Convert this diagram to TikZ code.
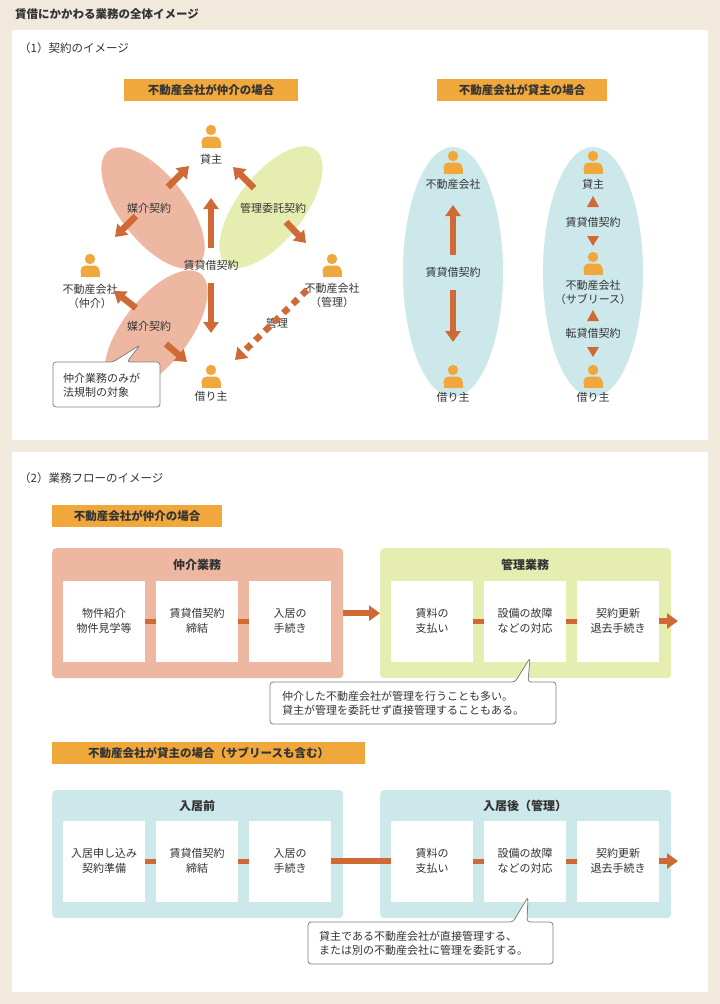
\documentclass[tikz,border=0pt]{standalone}
\usepackage{fontspec}
\setmainfont{Noto Sans CJK JP}
\usetikzlibrary{arrows.meta,shapes.geometric,calc}
\definecolor{bgc}{HTML}{F2E9DD}
\definecolor{orl}{HTML}{F0A83C}
\definecolor{arc}{HTML}{CF6A36}
\definecolor{pinkc}{HTML}{EEB7A1}
\definecolor{greenc}{HTML}{E6EDB0}
\definecolor{bluec}{HTML}{CDE8EA}
\definecolor{txt}{HTML}{333333}
\tikzset{
 lbl/.style={font=\fontsize{11}{14}\selectfont, text=txt, align=center, inner sep=1pt},
 tag/.style={fill=orl, font=\fontsize{11.5}{14}\selectfont\bfseries, text=txt, inner sep=0pt, minimum height=22, anchor=west},
 blk/.style={draw=arc, line width=6.5, -{Triangle[width=15,length=11]}},
 small/.style={draw=arc, line width=5},
 wbox/.style={fill=white, minimum width=82, minimum height=81, inner sep=0pt, font=\fontsize{11}{15}\selectfont, text=txt, align=center},
 grp/.style={rounded corners=4, minimum width=291, minimum height=130, inner sep=0pt},
 call/.style={draw=gray, line width=0.8, fill=white, rounded corners=3},
 ell/.style={ellipse, inner sep=0pt},
 gtitle/.style={lbl,font=\fontsize{12}{14}\selectfont\bfseries}
}
\newcommand\myperson[1]{\fill[orl] ($(#1)+(0,-6)$) circle (5.2);
 \fill[orl,rounded corners=5] ($(#1)+(-9.5,12)$) rectangle ($(#1)+(9.5,0.5)$);
 \fill[orl] ($(#1)+(-9.5,6)$) rectangle ($(#1)+(9.5,12)$);}
\begin{document}
\begin{tikzpicture}[x=1pt,y=-1pt]
\fill[bgc] (0,0) rectangle (720,1004);
\useasboundingbox (0,0) rectangle (720,1004);
\node[lbl,anchor=west,font=\fontsize{11.5}{14}\selectfont\bfseries] (title) at (14,14) {賃借にかかわる業務の全体イメージ};
\fill[white] (12,30) rectangle (708,440);
\fill[white] (12,452) rectangle (708,992);
\node[lbl,anchor=west,font=\fontsize{11.5}{14}\selectfont] (t1) at (18,48) {（1）契約のイメージ};
\node[lbl,anchor=west,font=\fontsize{11.5}{14}\selectfont] (t2) at (18,478) {（2）業務フローのイメージ};
% tags
\node[tag,minimum width=174] (tagA) at (124,90) {不動産会社が仲介の場合};
\node[tag,minimum width=170] (tagB) at (437,90) {不動産会社が貸主の場合};
% ellipses
\node[ell,fill=pinkc,minimum width=145,minimum height=66,rotate=-52] (e1) at (153,208) {};
\node[ell,fill=greenc,minimum width=145,minimum height=66,rotate=52] (e2) at (271,207) {};
\node[ell,fill=pinkc,minimum width=145,minimum height=66,rotate=52] (e3) at (156,331) {};
% persons
\coordinate (pL) at (211,136); \myperson{pL}
\coordinate (pA) at (90,265); \myperson{pA}
\coordinate (pB) at (332,265); \myperson{pB}
\coordinate (pC) at (211,376); \myperson{pC}
\node[lbl] (kashi) at (211,159) {貸主};
\node[lbl] (fA) at (90,296) {不動産会社\\（仲介）};
\node[lbl] (fB) at (332,295) {不動産会社\\（管理）};
\node[lbl] (kari) at (211,396) {借り主};
\node[lbl] (m1) at (149,208) {媒介契約};
\node[lbl] (m2) at (273,208) {管理委託契約};
\node[lbl] (m3) at (149,326) {媒介契約};
\node[lbl] (cc) at (211,265) {賃貸借契約};
\node[lbl] (kanri) at (277,323) {管理};
% arrows
\coordinate (a1s) at (168,187); \coordinate (a1e) at (189,166);
\coordinate (a2s) at (136,216); \coordinate (a2e) at (115,237);
\coordinate (a3s) at (254,188); \coordinate (a3e) at (233,167);
\coordinate (a4s) at (286,222); \coordinate (a4e) at (306,243);
\coordinate (a5s) at (136,308); \coordinate (a5e) at (114,291);
\coordinate (a6s) at (166,344); \coordinate (a6e) at (187,362);
\draw[blk] (a1s) -- (a1e); \draw[blk] (a2s) -- (a2e);
\draw[blk] (a3s) -- (a3e); \draw[blk] (a4s) -- (a4e);
\draw[blk] (a5s) -- (a5e); \draw[blk] (a6s) -- (a6e);
\coordinate (v1s) at (211,248); \coordinate (v1e) at (211,198);
\coordinate (v2s) at (211,283); \coordinate (v2e) at (211,333);
\draw[blk] (v1s) -- (v1e); \draw[blk] (v2s) -- (v2e);
\coordinate (ds) at (307,290); \coordinate (de) at (235,360);
\draw[draw=arc,line width=6.5,dash pattern=on 7 off 6,-{Triangle[width=15,length=11]}] (ds) -- (de);
% callout 1
\draw[call] (53,362) -- (113,362) -- (140,345) -- (127,362) -- (160,362) -- (160,407) -- (53,407) -- cycle;
\node[lbl,anchor=west,align=left] (cl1) at (62,385) {仲介業務のみが\\法規制の対象};
% right part
\node[ell,fill=bluec,minimum width=100,minimum height=250] (e4) at (453,272) {};
\node[ell,fill=bluec,minimum width=100,minimum height=250] (e5) at (593,272) {};
\coordinate (pD) at (453,162); \myperson{pD}
\coordinate (pE) at (453,376); \myperson{pE}
\node[lbl] (fD) at (453,184) {不動産会社};
\node[lbl] (kE) at (453,397) {借り主};
\node[lbl] (cD) at (453,272) {賃貸借契約};
\coordinate (v3s) at (453,255); \coordinate (v3e) at (453,205);
\coordinate (v4s) at (453,290); \coordinate (v4e) at (453,342);
\draw[blk] (v3s) -- (v3e); \draw[blk] (v4s) -- (v4e);
\coordinate (pF) at (593,162); \myperson{pF}
\coordinate (pG) at (593,263); \myperson{pG}
\coordinate (pH) at (593,376); \myperson{pH}
\node[lbl] (kF) at (593,184) {貸主};
\node[lbl] (cF) at (593,222) {賃貸借契約};
\node[lbl] (fG) at (593,292) {不動産会社\\（サブリース）};
\node[lbl] (cG) at (593,333) {転貸借契約};
\node[lbl] (kH) at (593,397) {借り主};
\fill[arc] (587,207) -- (599,207) -- (593,196) -- cycle;
\fill[arc] (587,236) -- (599,236) -- (593,246) -- cycle;
\fill[arc] (587,321) -- (599,321) -- (593,310) -- cycle;
\fill[arc] (587,347) -- (599,347) -- (593,357) -- cycle;
% section 2 first
\node[tag,minimum width=170] (tagC) at (52,516) {不動産会社が仲介の場合};
\node[grp,fill=pinkc,anchor=north west] (g1) at (52,548) {};
\node[grp,fill=greenc,anchor=north west] (g2) at (380,548) {};
\node[gtitle] at (197,565) {仲介業務};
\node[gtitle] at (525,565) {管理業務};
\node[wbox] (b1) at (104,621) {物件紹介\\物件見学等};
\node[wbox] (b2) at (197,621) {賃貸借契約\\締結};
\node[wbox] (b3) at (290,621) {入居の\\手続き};
\node[wbox] (b4) at (432,621) {賃料の\\支払い};
\node[wbox] (b5) at (525,621) {設備の故障\\などの対応};
\node[wbox] (b6) at (618,621) {契約更新\\退去手続き};
\draw[small] (b1) -- (b2); \draw[small] (b2) -- (b3);
\draw[small] (b4) -- (b5); \draw[small] (b5) -- (b6);
\draw[blk] (g1.east) -- (g2.west);
\coordinate (end1) at (678,621);
\draw[blk] (b6.east) -- (end1);
\draw[call] (270,682) -- (515,682) -- (530,658) -- (528,682) -- (556,682) -- (556,724) -- (270,724) -- cycle;
\node[lbl,anchor=west,align=left] (cl2) at (281,703) {仲介した不動産会社が管理を行うことも多い。\\貸主が管理を委託せず直接管理することもある。};
% section 2 second
\node[tag,minimum width=313] (tagD) at (52,753) {不動産会社が貸主の場合（サブリースも含む）};
\node[grp,fill=bluec,minimum height=128,anchor=north west] (g3) at (52,790) {};
\node[grp,fill=bluec,minimum height=128,anchor=north west] (g4) at (380,790) {};
\node[gtitle] at (197,806) {入居前};
\node[gtitle] at (525,806) {入居後（管理）};
\node[wbox] (c1) at (104,861) {入居申し込み\\契約準備};
\node[wbox] (c2) at (197,861) {賃貸借契約\\締結};
\node[wbox] (c3) at (290,861) {入居の\\手続き};
\node[wbox] (c4) at (432,861) {賃料の\\支払い};
\node[wbox] (c5) at (525,861) {設備の故障\\などの対応};
\node[wbox] (c6) at (618,861) {契約更新\\退去手続き};
\draw[small] (c1) -- (c2); \draw[small] (c2) -- (c3);
\draw[small] (c4) -- (c5); \draw[small] (c5) -- (c6);
\draw[draw=arc,line width=6.5] (c3.east) -- (c4.west);
\coordinate (end2) at (678,861);
\draw[blk] (c6.east) -- (end2);
\draw[call] (308,922) -- (513,922) -- (528,897) -- (527,922) -- (553,922) -- (553,964) -- (308,964) -- cycle;
\node[lbl,anchor=west,align=left] (cl3) at (318,943) {貸主である不動産会社が直接管理する、\\または別の不動産会社に管理を委託する。};
\end{tikzpicture}
\end{document}
